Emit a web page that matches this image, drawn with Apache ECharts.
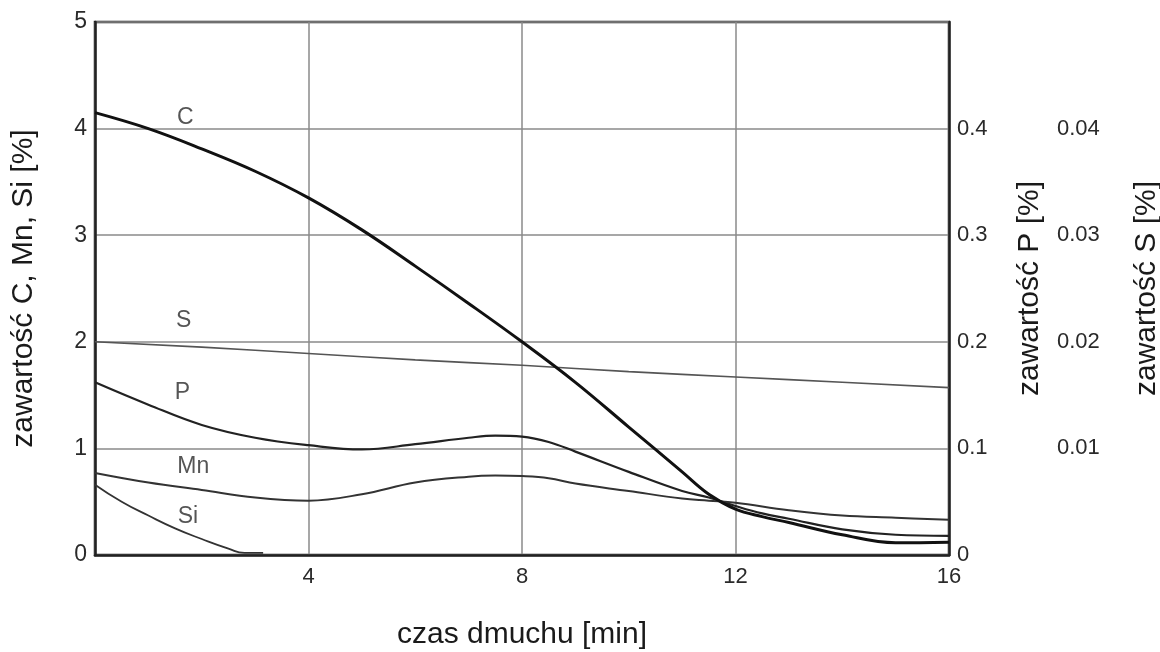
<!DOCTYPE html>
<html>
<head>
<meta charset="utf-8">
<title>zawartość</title>
<script src="https://cdn.jsdelivr.net/npm/echarts@6.0.0/dist/echarts.min.js"></script>
<style>
  html, body { margin: 0; padding: 0; background: #fff; }
  #chart { width: 1160px; height: 652px; }
</style>
</head>
<body>
<div id="chart"></div>
<script>
// czas dmuchu [min] and contents

// C on the left axis (%)
const timeC = [0, 1, 2, 3, 4, 5, 6, 7, 8, 9, 10, 11, 11.5, 12, 12.5, 13, 14, 15, 16];
const valC = [4.15, 4.0, 3.81, 3.6, 3.35, 3.05, 2.71, 2.36, 2.0, 1.62, 1.2, 0.78, 0.57, 0.43, 0.36, 0.305, 0.19, 0.115, 0.12];

// Mn on the left axis (%)
const timeMn = [0, 1, 2, 3, 4, 5, 6, 7, 7.5, 8, 8.5, 9, 10, 11, 11.5, 12, 13, 14, 15, 16];
const valMn = [0.77, 0.68, 0.61, 0.54, 0.51, 0.57, 0.68, 0.735, 0.745, 0.74, 0.72, 0.67, 0.6, 0.53, 0.51, 0.49, 0.42, 0.37, 0.35, 0.33];

// Si dies out after ~3 min
const timeSi = [0, 0.5, 1, 1.5, 2, 2.5, 2.8, 3.15];
const valSi = [0.66, 0.5, 0.37, 0.25, 0.15, 0.06, 0.02, 0.02];

// P on its own axis (0 - 0.5 %)
const timeP = [0, 1, 2, 3, 4, 5, 6, 7, 7.5, 8, 8.5, 9, 10, 11, 11.5, 12, 12.5, 13, 14, 15, 16];
const valP = [0.162, 0.141, 0.122, 0.11, 0.103, 0.099, 0.104, 0.11, 0.112, 0.111, 0.106, 0.097, 0.078, 0.06, 0.054, 0.046, 0.039, 0.034, 0.024, 0.019, 0.018];

// S on its own axis (0 - 0.05 %)
const timeS = [0, 2, 4, 6, 8, 10, 12, 14, 16];
const valS = [0.02, 0.0195, 0.0189, 0.0183, 0.0178, 0.0172, 0.0167, 0.0162, 0.0157];

// curve names placed in the plot (left axis units)
const curveNames = ["C", "S", "P", "Mn", "Si"];
const curveNameX = [1.69, 1.66, 1.64, 1.84, 1.74];
const curveNameY = [4.1, 2.2, 1.52, 0.83, 0.36];

const xTicks = [4, 8, 12, 16];

function pairs(xs, ys) {
  return xs.map((x, i) => [x, ys[i]]);
}

const font = "'Liberation Sans', Arial, sans-serif";

let myChart = echarts.init(document.getElementById("chart"));

let option = {
  animation: false,
  backgroundColor: "#fff",
  textStyle: { fontFamily: font },
  grid: {
    left: 95,
    top: 22,
    right: 211,
    bottom: 97,
    outerBoundsMode: "none",
    containLabel: false,
    show: true,
    borderColor: "#222",
    borderWidth: 2.5
  },
  xAxis: {
    type: "value",
    min: 0,
    max: 16,
    interval: 4,
    name: "czas dmuchu [min]",
    nameLocation: "middle",
    nameGap: 65,
    nameTextStyle: { fontSize: 30, color: "#1a1a1a", fontFamily: font },
    axisLine: { show: true, lineStyle: { color: "#222", width: 2.5 } },
    axisTick: { show: false },
    axisLabel: {
      fontSize: 22,
      color: "#2a2a2a",
      margin: 11,
      formatter: v => (xTicks.indexOf(v) >= 0 ? String(v) : "")
    },
    splitLine: { show: true, lineStyle: { color: "#8a8a8a", width: 1.5 } }
  },
  yAxis: [
    {
      type: "value",
      min: 0,
      max: 5,
      interval: 1,
      position: "left",
      name: "zawartość C, Mn, Si [%]",
      nameLocation: "middle",
      nameRotate: 90,
      nameGap: 56,
      nameTextStyle: { fontSize: 30, color: "#1a1a1a", fontFamily: font },
      axisLine: { show: true, lineStyle: { color: "#222", width: 2.5 } },
      axisTick: { show: false },
      axisLabel: { fontSize: 23, color: "#2a2a2a", margin: 8 },
      splitLine: { show: true, lineStyle: { color: "#8a8a8a", width: 1.5 } }
    },
    {
      type: "value",
      min: 0,
      max: 0.5,
      interval: 0.1,
      position: "right",
      name: "zawartość P [%]",
      nameLocation: "middle",
      nameRotate: 90,
      nameGap: 66,
      nameTextStyle: { fontSize: 30, color: "#1a1a1a", fontFamily: font },
      axisLine: { show: true, lineStyle: { color: "#222", width: 2.5 } },
      axisTick: { show: false },
      axisLabel: {
        fontSize: 22,
        color: "#2a2a2a",
        margin: 8,
        formatter: v => (v >= 0.45 ? "" : String(Math.round(v * 10) / 10))
      },
      splitLine: { show: false }
    },
    {
      type: "value",
      min: 0,
      max: 0.05,
      interval: 0.01,
      position: "right",
      offset: 100,
      name: "zawartość S [%]",
      nameLocation: "middle",
      nameRotate: 90,
      nameGap: 83,
      nameTextStyle: { fontSize: 30, color: "#1a1a1a", fontFamily: font },
      axisLine: { show: false },
      axisTick: { show: false },
      axisLabel: {
        fontSize: 22,
        color: "#2a2a2a",
        margin: 8,
        formatter: v => (v < 0.005 || v > 0.045 ? "" : (Math.round(v * 100) / 100).toFixed(2))
      },
      splitLine: { show: false }
    }
  ],
  series: [
    {
      name: "S",
      type: "line",
      yAxisIndex: 2,
      data: pairs(timeS, valS),
      smooth: true,
      showSymbol: false,
      lineStyle: { color: "#555", width: 1.6 }
    },
    {
      name: "P",
      type: "line",
      yAxisIndex: 1,
      data: pairs(timeP, valP),
      smooth: 0.4,
      showSymbol: false,
      lineStyle: { color: "#222", width: 2.2 }
    },
    {
      name: "Mn",
      type: "line",
      yAxisIndex: 0,
      data: pairs(timeMn, valMn),
      smooth: 0.4,
      showSymbol: false,
      lineStyle: { color: "#333", width: 2 }
    },
    {
      name: "Si",
      type: "line",
      yAxisIndex: 0,
      data: pairs(timeSi, valSi),
      smooth: true,
      showSymbol: false,
      lineStyle: { color: "#333", width: 1.8 }
    },
    {
      name: "C",
      type: "line",
      yAxisIndex: 0,
      data: pairs(timeC, valC),
      smooth: 0.4,
      showSymbol: false,
      lineStyle: { color: "#111", width: 3 }
    },
    {
      name: "labels",
      type: "scatter",
      yAxisIndex: 0,
      symbolSize: 0,
      silent: true,
      data: curveNames.map((n, i) => ({ name: n, value: [curveNameX[i], curveNameY[i]] })),
      label: {
        show: true,
        position: "inside",
        formatter: p => p.name,
        fontSize: 23,
        color: "#2a2a2a",
        fontFamily: font
      }
    }
  ]
};

myChart.setOption(option);
</script>
</body>
</html>
